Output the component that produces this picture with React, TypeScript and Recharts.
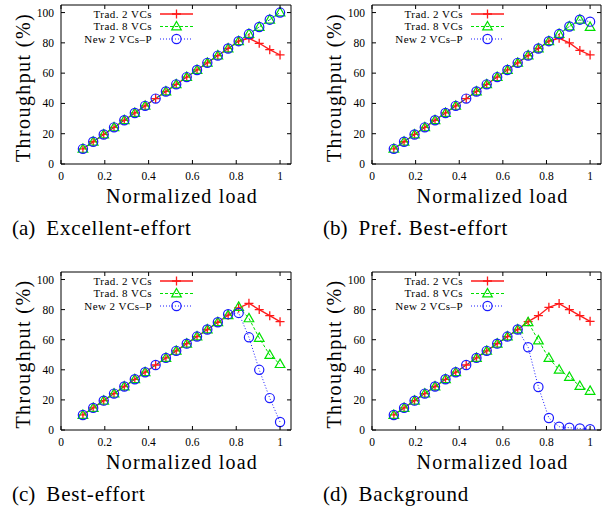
import React from 'react';
import { Customized, Line, LineChart, XAxis, YAxis, ReferenceArea } from 'recharts';

const SERIF = 'Liberation Serif, DejaVu Serif, Times New Roman, serif';

// normalized offered load of the 20 simulation runs
const loads = [0.1, 0.147, 0.195, 0.242, 0.289, 0.337, 0.384, 0.432, 0.479, 0.526, 0.574, 0.621, 0.668, 0.716, 0.763, 0.811, 0.858, 0.905, 0.953, 1.0];

const xTicks = [0, 0.2, 0.4, 0.6, 0.8, 1];
const yTicks = [0, 20, 40, 60, 80, 100];
const seriesNames = ['Trad. 2 VCs', 'Trad. 8 VCs', 'New 2 VCs\u2013P'];

// (a) Excellent-effort, throughput %
const excTrad2 = [10, 14.7, 19.5, 24.2, 28.9, 33.7, 38.4, 43.2, 47.9, 52.6, 57.4, 62.1, 66.8, 71.6, 76.3, 81.1, 83, 79.7, 75.5, 72];
const excTrad8 = [10, 14.7, 19.5, 24.2, 28.9, 33.7, 38.4, null, 47.9, 52.6, 57.4, 62.1, 66.8, 71.6, 76.3, 81.1, 85.8, 90.5, 95.3, 100];
const excNew2 = [10, 14.7, 19.5, 24.2, 28.9, 33.7, 38.4, 43.2, 47.9, 52.6, 57.4, 62.1, 66.8, 71.6, 76.3, 81.1, 85.8, 90.5, 95.3, 100];

// (b) Pref. Best-effort
const prefTrad2 = [10, 14.7, 19.5, 24.2, 28.9, 33.7, 38.4, 43.2, 47.9, 52.6, 57.4, 62.1, 66.8, 71.6, 76.3, 81.1, 83, 80, 75, 72];
const prefTrad8 = [10, 14.7, 19.5, 24.2, 28.9, 33.7, 38.4, null, 47.9, 52.6, 57.4, 62.1, 66.8, 71.6, 76.3, 81.1, 85.8, 90.8, 95.3, 90.5];
const prefNew2 = [10, 14.7, 19.5, 24.2, 28.9, 33.7, 38.4, 43.2, 47.9, 52.6, 57.4, 62.1, 66.8, 71.6, 76.3, 81.1, 85.8, 90.8, 95.3, 94];

// (c) Best-effort
const beTrad2 = [10, 14.7, 19.5, 24.2, 28.9, 33.7, 38.4, 43.2, 47.9, 52.6, 57.4, 62.1, 66.8, 71.6, 76.3, 81.1, 84.2, 80, 76, 72];
const beTrad8 = [10, 14.7, 19.5, 24.2, 28.9, 33.7, 38.4, null, 47.9, 52.6, 57.4, 62.1, 66.8, 71.6, 76.3, 81.8, 74.2, 61.2, 49.8, 43.8];
const beNew2 = [10, 14.7, 19.5, 24.2, 28.9, 33.7, 38.4, 43.2, 47.9, 52.6, 57.4, 62.1, 66.8, 71.6, 77, 77.8, 61.6, 40, 21.2, 5.3];

// (d) Background
const bgTrad2 = [10, 14.7, 19.5, 24.2, 28.9, 33.7, 38.4, 43.2, 47.9, 52.6, 57.4, 62.1, 66.8, 72, 76, 81.5, 84, 80, 76, 72.2];
const bgTrad8 = [10, 14.7, 19.5, 24.2, 28.9, 33.7, 38.4, null, 47.9, 52.6, 57.4, 62.1, 66.8, 71.6, 59.5, 47.8, 40, 35.2, 29.2, 26];
const bgNew2 = [10, 14.7, 19.5, 24.2, 28.9, 33.7, 38.4, 43.2, 47.9, 52.6, 57.4, 62.1, 66.8, 55, 28.6, 8, 2.2, 1.5, 1, 0.5];

const X_AXIS_H = 50;
const RED = '#ff1a1a';
const GREEN = '#00e000';
const BLUE = '#1a1aff';

const styles = [
  { key: 'trad2', color: RED, dash: undefined, width: 1.3, marker: 'plus' },
  { key: 'trad8', color: GREEN, dash: '3 2', width: 1, marker: 'tri' },
  { key: 'new2', color: BLUE, dash: '1 2', width: 1, marker: 'circle' },
];

function Marker({ kind, cx, cy, color }) {
  if (kind === 'plus') {
    return (
      <path d={`M${cx - 4.5},${cy}H${cx + 4.5}M${cx},${cy - 4.5}V${cy + 4.5}`} stroke={color} strokeWidth={1.3} fill="none" />
    );
  }
  if (kind === 'tri') {
    return (
      <path d={`M${cx},${cy - 5}L${cx + 4.8},${cy + 3.4}L${cx - 4.8},${cy + 3.4}Z`} stroke={color} strokeWidth={1.2} fill="none" />
    );
  }
  return <circle cx={cx} cy={cy} r={4.6} stroke={color} strokeWidth={1.2} fill="none" />;
}

const makeDot = (kind, color, dataKey) => (p) => {
  if (p.cx == null || p.cy == null || p.payload?.[dataKey] == null) return <g key={p.index} />;
  return <Marker key={p.index} kind={kind} cx={p.cx} cy={p.cy} color={color} />;
};

function XTick(props) {
  const { plot, payload } = props;
  const x = payload?.coordinate ?? props.x;
  return (
    <g>
      <line x1={x} x2={x} y1={plot.bottom} y2={plot.bottom - 4} stroke="#000" />
      <line x1={x} x2={x} y1={plot.top} y2={plot.top + 4} stroke="#000" />
      <text x={x} y={plot.bottom + 16} textAnchor="middle" style={{ fontFamily: SERIF, fontSize: 11.5 }} fill="#000">
        {String(payload.value)}
      </text>
    </g>
  );
}

function YTick(props) {
  const { plot, payload } = props;
  const y = payload?.coordinate ?? props.y;
  return (
    <g>
      <line x1={plot.left} x2={plot.left + 4} y1={y} y2={y} stroke="#000" />
      <line x1={plot.right} x2={plot.right - 4} y1={y} y2={y} stroke="#000" />
      <text x={plot.left - 7} y={y + 4} textAnchor="end" style={{ fontFamily: SERIF, fontSize: 11.5 }} fill="#000">
        {String(payload.value)}
      </text>
    </g>
  );
}

function LegendBox({ plot }) {
  const textX = plot.left + 91;
  const rows = [9, 21.5, 34];
  return (
    <g>
      {styles.map((s, i) => {
        const cy = plot.top + rows[i];
        return (
          <g key={s.key}>
            <text x={textX} y={cy + 3.8} textAnchor="end" style={{ fontFamily: SERIF, fontSize: 11, letterSpacing: 0.45 }} fill="#000">
              {seriesNames[i]}
            </text>
            <line x1={textX + 8} x2={textX + 41} y1={cy} y2={cy} stroke={s.color} strokeWidth={s.width} strokeDasharray={s.dash} />
            <Marker kind={s.marker} cx={textX + 24.5} cy={cy} color={s.color} />
          </g>
        );
      })}
    </g>
  );
}

function Caption({ letter, text, x, y }) {
  return (
    <text x={x} y={y} style={{ fontFamily: SERIF, fontSize: 21 }} fill="#000">
      <tspan>({letter})</tspan>
      <tspan dx={11} style={{ letterSpacing: 0.8 }}>{text}</tspan>
    </text>
  );
}

function Panel({ letter, caption, box, plot, series }) {
  const data = loads.map((load, i) => ({
    load,
    trad2: series[0][i],
    trad8: series[1][i],
    new2: series[2][i],
  }));
  const plotH = plot.bottom - plot.top;
  return (
    <div style={{ position: 'absolute', left: box.left, top: box.top }}>
      <LineChart
        width={box.width}
        height={box.height}
        data={data}
        margin={{ top: plot.top, right: box.width - plot.right, left: 0, bottom: box.height - plot.bottom - X_AXIS_H }}
      >
        <XAxis
          type="number"
          dataKey="load"
          domain={[0, 1.05]}
          ticks={xTicks}
          interval={0}
          allowDataOverflow
          axisLine={false}
          tickLine={false}
          height={X_AXIS_H}
          tick={<XTick plot={plot} />}
          label={{
            content: () => (
              <text x={(plot.left + plot.right) / 2 + 6} y={plot.bottom + 39} textAnchor="middle" style={{ fontFamily: SERIF, fontSize: 20, letterSpacing: 1.2 }} fill="#000">
                Normalized load
              </text>
            ),
          }}
        />
        <YAxis
          type="number"
          domain={[0, 105]}
          ticks={yTicks}
          interval={0}
          allowDataOverflow
          axisLine={false}
          tickLine={false}
          width={plot.left}
          tick={<YTick plot={plot} />}
          label={{
            content: () => {
              const cx = plot.left - 31.5;
              const cy = plot.top + plotH / 2 + 3;
              return (
                <text x={cx} y={cy} transform={`rotate(-90 ${cx} ${cy})`} textAnchor="middle" style={{ fontFamily: SERIF, fontSize: 20, letterSpacing: 1.4 }} fill="#000">
                  Throughput (%)
                </text>
              );
            },
          }}
        />
        <ReferenceArea x1={0} x2={1.05} y1={0} y2={105} fill="none" stroke="#000" strokeWidth={1} ifOverflow="visible" />
        {styles.map((s) => (
          <Line
            key={s.key}
            type="linear"
            dataKey={s.key}
            stroke={s.color}
            strokeWidth={s.width}
            strokeDasharray={s.dash}
            connectNulls
            dot={makeDot(s.marker, s.color, s.key)}
            activeDot={false}
            isAnimationActive={false}
          />
        ))}
        <Customized component={<LegendBox plot={plot} />} />
        <Customized component={<Caption letter={letter} text={caption} x={plot.left - 49} y={plot.bottom + 71} />} />
      </LineChart>
    </div>
  );
}

export default function App() {
  return (
    <div style={{ position: 'absolute', left: 0, top: 0, width: 610, height: 506, background: '#fff' }}>
      <Panel
        letter="a"
        caption="Excellent-effort"
        box={{ left: 0, top: 0, width: 305, height: 250 }}
        plot={{ left: 61, top: 5, right: 291, bottom: 164 }}
        series={[excTrad2, excTrad8, excNew2]}
      />
      <Panel
        letter="b"
        caption="Pref. Best-effort"
        box={{ left: 305, top: 0, width: 305, height: 250 }}
        plot={{ left: 67, top: 5, right: 296, bottom: 164 }}
        series={[prefTrad2, prefTrad8, prefNew2]}
      />
      <Panel
        letter="c"
        caption="Best-effort"
        box={{ left: 0, top: 250, width: 305, height: 256 }}
        plot={{ left: 61, top: 22, right: 291, bottom: 180 }}
        series={[beTrad2, beTrad8, beNew2]}
      />
      <Panel
        letter="d"
        caption="Background"
        box={{ left: 305, top: 250, width: 305, height: 256 }}
        plot={{ left: 67, top: 22, right: 296, bottom: 180 }}
        series={[bgTrad2, bgTrad8, bgNew2]}
      />
    </div>
  );
}
